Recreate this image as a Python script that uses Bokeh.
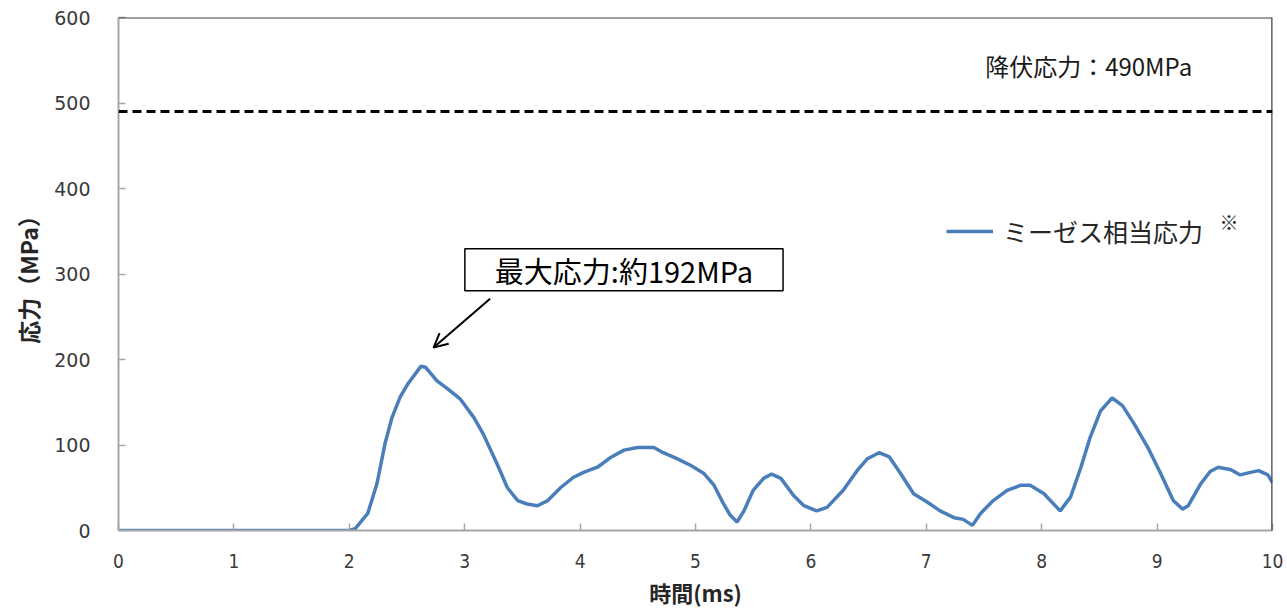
from bokeh.plotting import figure
from bokeh.models import (Range1d, Span, Label, Arrow, OpenHead, Legend,
                          LegendItem, FixedTicker)
from bokeh.embed import file_html
from bokeh.resources import INLINE

# Time (ms) and von Mises equivalent stress (MPa)
time_ms = [0, 1.0, 2.0, 2.05, 2.16, 2.24, 2.31, 2.37, 2.44, 2.51,
           2.62, 2.66, 2.76, 2.85, 2.96, 3.08, 3.16, 3.28, 3.37, 3.46,
           3.54, 3.63, 3.72, 3.83, 3.94, 4.03, 4.15, 4.26, 4.38, 4.50,
           4.64, 4.72, 4.84, 4.96, 5.07, 5.16, 5.24, 5.30, 5.36, 5.42,
           5.50, 5.59, 5.66, 5.74, 5.85, 5.94, 6.05, 6.14, 6.28, 6.40,
           6.49, 6.59, 6.68, 6.78, 6.89, 7.01, 7.12, 7.24, 7.32, 7.40,
           7.47, 7.58, 7.70, 7.82, 7.90, 8.02, 8.16, 8.25, 8.34, 8.42,
           8.51, 8.61, 8.70, 8.80, 8.92, 9.03, 9.14, 9.22, 9.27, 9.38,
           9.46, 9.53, 9.64, 9.72, 9.81, 9.88, 9.96, 10.0]
mises_stress = [0, 0, 0, 2, 20, 55, 102, 132, 156, 172,
                192, 191, 175, 166, 154, 132, 113, 78, 50, 35,
                31, 29, 35, 50, 62, 68, 74, 85, 94, 97,
                97, 91, 84, 76, 67, 53, 32, 18, 10, 23,
                47, 61, 66, 61, 41, 29, 23, 27, 47, 70,
                84, 91, 86, 66, 43, 33, 23, 15, 13, 6,
                20, 35, 47, 53, 53, 43, 23, 39, 74, 109,
                140, 155, 146, 125, 97, 67, 35, 25, 29, 55,
                69, 74, 71, 65, 68, 70, 65, 56]

yield_stress = 490
max_stress = 192
max_time = 2.63

x_ticks = list(range(0, 11))
y_ticks = [0, 100, 200, 300, 400, 500, 600]

JP = "Noto Sans CJK JP"
TICK_COLOR = "#3a3a3a"

p = figure(width=1287, height=614, output_backend="svg", toolbar_location=None,
           x_range=Range1d(0, 10), y_range=Range1d(0, 600),
           min_border_left=118, min_border_right=15, min_border_top=17,
           min_border_bottom=84)
p.outline_line_color = None
p.xgrid.visible = False
p.ygrid.visible = False
p.background_fill_color = "white"
p.border_fill_color = "white"

# axes
for ax in (p.xaxis[0], p.yaxis[0]):
    ax.axis_line_color = "#a6a6a6"
    ax.axis_line_width = 2
    ax.major_tick_line_color = "#a6a6a6"
    ax.major_tick_line_width = 1.5
    ax.major_tick_in = 7
    ax.major_tick_out = 0
    ax.minor_tick_line_color = None
    ax.major_label_text_color = TICK_COLOR
    ax.axis_label_text_font = JP
    ax.axis_label_text_font_style = "bold"
    ax.axis_label_text_color = "#262626"

p.xaxis.ticker = FixedTicker(ticks=x_ticks)
p.yaxis.ticker = FixedTicker(ticks=y_ticks)
p.yaxis.major_label_text_font = "DejaVu Sans"
p.yaxis.major_label_text_font_size = "19px"
p.xaxis.major_label_text_font = "'Liberation Sans Narrow', 'DejaVu Sans Condensed', 'Roboto Condensed', Roboto"
p.xaxis.major_label_text_font_size = "19px"
p.xaxis.major_label_standoff = 23
p.yaxis.major_label_standoff = 28
p.xaxis.axis_label = "時間(ms)"
p.yaxis.axis_label = "応力（MPa）"
p.xaxis.axis_label_text_font_size = "22px"
p.yaxis.axis_label_text_font_size = "23px"
p.xaxis.axis_label_standoff = 5
p.yaxis.axis_label_standoff = 6

# top and right frame lines
p.add_layout(Span(location=600, dimension="width", line_color="#404040", line_width=2))
p.add_layout(Span(location=10, dimension="height", line_color="#404040", line_width=2.5))

# yield stress level
p.add_layout(Span(location=yield_stress, dimension="width", line_color="black",
                  line_width=3, line_dash="9 5"))
p.add_layout(Label(x=7.51, y=yield_stress + 54, text=f"降伏応力：{yield_stress}MPa",
                   text_font=JP, text_font_size="24px", text_color="#1a1a1a",
                   text_baseline="middle", text_align="left"))

# stress history
r = p.line(time_ms, mises_stress, line_color="#4a7ebb", line_width=3.5)

legend = Legend(items=[LegendItem(label="ミーゼス相当応力", renderers=[r])],
                location=(828, 281), padding=0, margin=0, spacing=0,
                glyph_width=47, glyph_height=20, label_height=20,
                label_standoff=10, label_text_font=JP,
                label_text_font_size="25px", label_text_color="#262626",
                background_fill_alpha=0, border_line_color=None)
p.add_layout(legend)
p.add_layout(Label(x=1101, y=296, x_units="screen", y_units="screen",
                   text="※", text_font=JP, text_font_size="19px",
                   text_color="#1a1a1a"))

# peak annotation
p.add_layout(Label(x=4.38, y=305, text=f"最大応力:約{max_stress}MPa",
                   text_font=JP, text_font_size="29px", text_color="black",
                   text_align="center", text_baseline="middle",
                   border_line_color="black", border_line_width=1.5,
                   background_fill_color="white",
                   padding=dict(left=30, right=30, top=0, bottom=0)))
p.add_layout(Arrow(x_start=3.22, y_start=271, x_end=max_time + 0.1, y_end=max_stress + 22,
                   line_color="black", line_width=2,
                   end=OpenHead(size=14, line_color="black", line_width=2)))

open("out.html", "w").write(file_html(p, INLINE))
